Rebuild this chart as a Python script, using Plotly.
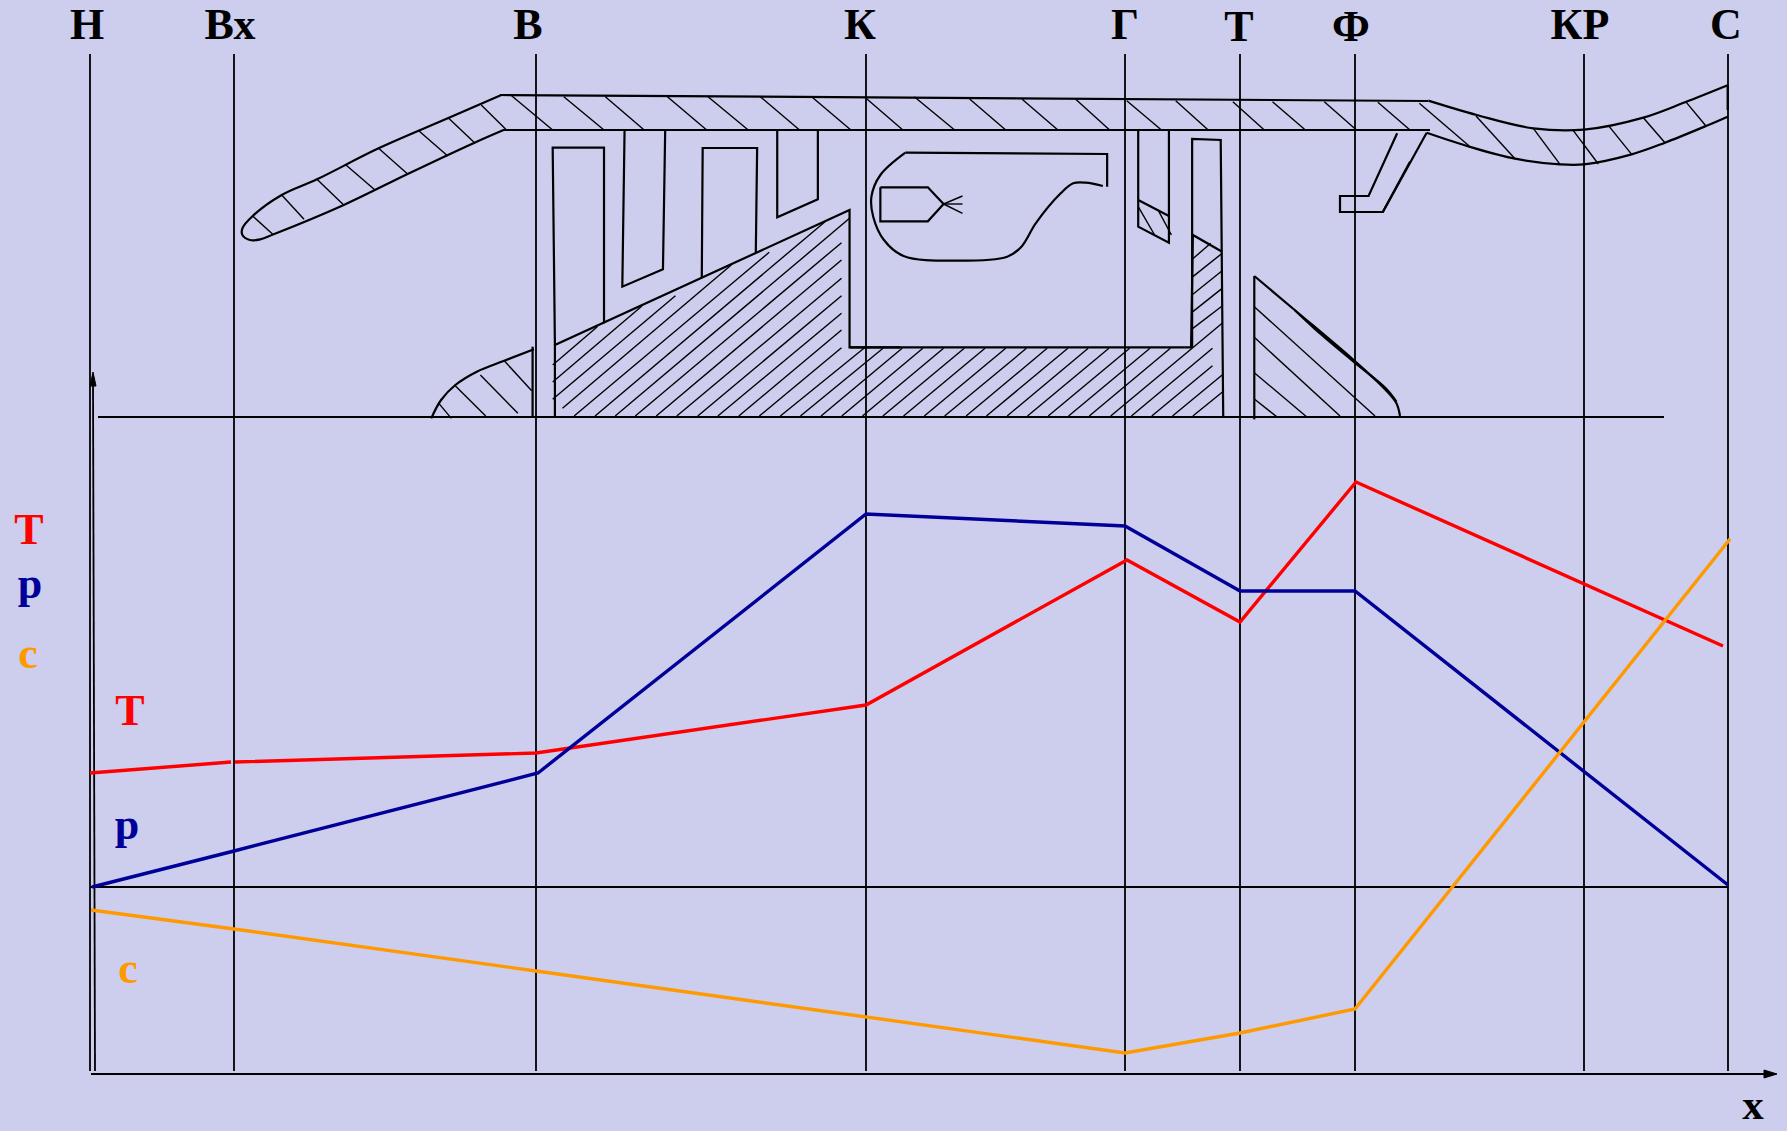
import plotly.graph_objects as go

BG = "#CDCDEE"
RED = "#FF0000"
BLUE = "#000099"
ORANGE = "#FF9900"
SERIF = "Liberation Serif"

# --- stations along the engine ---
station_labels = ["Н", "Вх", "В", "К", "Г", "Т", "Ф", "КР", "С"]
station_x = [90, 234, 536, 866, 1125, 1240, 1355, 1584, 1728]
label_x = [87, 230, 528, 860, 1125, 1239, 1351, 1580, 1726]
label_y = [28, 28, 28, 28, 28, 30, 30, 28, 28]

# --- parameter curves ---
T_x = [90, 231, None, 235, 536, 866, 1127, 1240, 1356, 1723]
T_y = [773, 762, None, 762, 753, 705, 560, 622, 482, 646]
p_x = [92, 234, 538, 866, 1125, 1240, 1355, 1728]
p_y = [887, 851, 773, 514, 526, 591, 591, 885]
c_x = [91, 234, 536, 866, 1125, 1240, 1355, 1730]
c_y = [910, 929, 971, 1017, 1053, 1033, 1009, 539]

COWL = [(675,105),(555,175),(400,265),(262,358),(183,405),(118,468),
        (95,505),(95,525),(112,540),(135,538),(165,523),(322,435),(465,342),
        (615,248),(680,210)]
COWL_HATCH = [(118,468,163,523),(183,405,233,478),(262,358,322,435),(325,313,392,390),
              (400,265,465,342),(490,212,555,288),(557,175,615,248),(630,135,685,208)]
CASING_HATCH_A = [(698,107,790,210),(815,110,905,210),(908,110,995,210),(1047,110,1135,210),
                  (1138,110,1228,210),(1255,110,1343,210),(1370,110,1458,210)]
CASING_HATCH_B = [(45,115,148,210),(180,110,293,210),(335,117,436,210),(482,118,582,210),
                  (632,118,727,210),(775,122,872,210),(912,122,1003,210),(1072,125,1160,210),
                  (1183,125,1275,210),(1328,125,1418,210),(1478,127,1568,210)]
SPINNER = [(518,1075),(540,1020),(572,975),(620,935),(680,903),(748,868)]
SPINNER_WALL = [(745,860),(745,1070)]
SPINNER_HATCH = [(535,1030,563,1075),(570,975,640,1068),(628,945,712,1060),(682,903,743,992)]
HUB_A = [(795,1070),(795,855),(1455,450),(1455,862),(1568,862)]
BLADE_1 = [(795,855),(790,263),(905,263),(905,790)]
BLADE_2 = [(951,213),(946,680),(1037,628),(1042,213)]
BLADE_3 = [(1124,652),(1126,264),(1248,264),(1245,578)]
BLADE_4 = [(1293,213),(1293,472),(1384,418),(1384,213)]
HUB_HATCH_A = [(790,915,890,800),(790,966,990,738),(790,1018,1065,707),(812,1045,1190,615),
               (838,1068,1275,577),(885,1068,1400,485),(930,1068,1455,475),(975,1068,1437,548),
               (1022,1068,1437,600),(1068,1068,1437,655),(1115,1068,1437,707),(1160,1068,1437,760),
               (1207,1068,1437,810),(1253,1068,1437,863),(1300,1068,1490,862),(1345,1068,1530,865)]
HUB_B = [(0,862),(955,862),(960,525),(1042,575)]
HUB_HATCH_B = [(-81,1068,146,865),(-23,1068,204,865),
               (35,1068,262,865),(92,1068,320,865),(150,1068,378,865),(208,1068,436,865),
               (265,1068,494,865),(325,1068,552,865),(382,1068,610,865),(440,1068,667,865),
               (497,1068,725,865),(555,1068,783,865),(612,1068,840,865),(670,1068,897,865),
               (730,1068,1042,790),(788,1068,1015,865),(845,1068,1015,917),(903,1068,1042,945),
               (960,1068,1042,997),
               (960,596,1010,550),(960,650,1042,580),(960,703,1042,632),(960,755,1042,685),
               (960,805,1042,738)]
COMBUSTOR_TOP = [(720,380),(720,282),(155,278)]
COMBUSTOR = [(155,278),(85,345),(60,410),(65,470),(95,540),(150,588),(300,602),
             (440,590),(480,560),(520,490),(590,400),(625,370),(660,368),(708,378)]
INJECTOR = [(85,382),(218,382),(262,432),(218,484),(85,484),(85,382)]
SPRAY = [(262,432,315,408),(262,432,315,432),(262,432,315,460)]
TURB_STATOR = [(807,213),(807,500),(893,548),(893,213)]
TURB_STATOR_LINE = [(807,420),(893,468)]
TURB_STATOR_HATCH = [(807,440,853,525),(865,455,900,525)]
TURB_ROTOR = [(958,862),(958,237),(1038,240),(1045,1068)]
CONE_WALL = [(1132,648),(1132,1078)]
CONE_OUTER = [(1132,648),(1245,750),(1410,900),(1500,990),(1530,1030),(1540,1068)]
CONE_INNER = [(1245,750),(1300,805),(1410,905),(1500,985),(1530,1025)]
CONE_HATCH = [(1132,740,1470,1068),(1132,832,1372,1068),(1132,938,1280,1072),(1132,1017,1197,1072)]
HOLDER_A = [(1532,220),(1452,408),(1372,408),(1372,456),(1492,456),(1568,305)]
NOZZLE_UP = [(145,122),(290,165),(460,205),(612,209),(790,173),(915,127),(1043,76)]
NOZZLE_LOW = [(140,218),(275,262),(405,296),(540,313),(612,313),(755,283),(855,248),(978,198),(1043,170)]
NOZZLE_WALL = [(1043,76),(1043,150)]
NOZZLE_HATCH = [(118,130,272,262),(288,168,405,296),(460,205,540,313),(580,212,655,312),
                (688,200,755,283),(790,173,855,248),(917,125,978,198)]
HOLDER_B = [(140,218),(8,457)]


def crop_a(p):
    return (200 + p[0] / 2.24, 60 + p[1] / 3)


def crop_b(p):
    return (850 + p[0] / 2.8, 60 + p[1] / 3)


def crop_c(p):
    return (1380 + p[0] / 3, 60 + p[1] / 3)


xs, ys = [], []
thin_x, thin_y = [], []
curve_x, curve_y = [], []


def poly(points, conv=None, tx=xs, ty=ys):
    for p in points:
        q = conv(p) if conv else p
        tx.append(q[0])
        ty.append(q[1])
    tx.append(None)
    ty.append(None)


def segs(items, conv):
    for s in items:
        poly([(s[0], s[1]), (s[2], s[3])], conv, thin_x, thin_y)


for outline in (SPINNER_WALL, HUB_A, BLADE_1, BLADE_2, BLADE_3, BLADE_4):
    poly(outline, crop_a)
for outline in (HUB_B, COMBUSTOR_TOP, INJECTOR, TURB_STATOR, TURB_STATOR_LINE, TURB_ROTOR, CONE_WALL, HOLDER_A):
    poly(outline, crop_b)
for outline in (NOZZLE_WALL, HOLDER_B):
    poly(outline, crop_c)
poly([(500, 95), (1428, 101)])
poly([(503, 130), (1430, 130)])

for outline in (COWL, SPINNER):
    poly(outline, crop_a, curve_x, curve_y)
for outline in (COMBUSTOR, CONE_OUTER, CONE_INNER):
    poly(outline, crop_b, curve_x, curve_y)
for outline in (NOZZLE_UP, NOZZLE_LOW):
    poly(outline, crop_c, curve_x, curve_y)

segs(COWL_HATCH + CASING_HATCH_A + SPINNER_HATCH + HUB_HATCH_A, crop_a)
segs(CASING_HATCH_B + HUB_HATCH_B + SPRAY + TURB_STATOR_HATCH + CONE_HATCH, crop_b)
segs(NOZZLE_HATCH, crop_c)

# frame lines
frame_x, frame_y = [], []
for sx in station_x:
    frame_x += [sx, sx, None]
    frame_y += [54, 1071, None]
frame_x += [95, 93, None, 90, 1728, None, 98, 1664, None, 91, 1770]
frame_y += [1071, 380, None, 887, 887, None, 417, 417, None, 1074, 1074]

fig = go.Figure()
fig.add_trace(go.Scatter(x=frame_x, y=frame_y, mode="lines", line=dict(color="#000000", width=1.8), hoverinfo="skip"))
fig.add_trace(go.Scatter(x=thin_x, y=thin_y, mode="lines", line=dict(color="#000000", width=1.4), hoverinfo="skip"))
fig.add_trace(go.Scatter(x=xs, y=ys, mode="lines", line=dict(color="#000000", width=2.2), hoverinfo="skip"))
fig.add_trace(go.Scatter(x=curve_x, y=curve_y, mode="lines", line=dict(color="#000000", width=2.2, shape="spline", smoothing=1), hoverinfo="skip"))
# arrow heads
fig.add_trace(go.Scatter(x=[93, 90, 96, 93], y=[372, 386, 386, 372], mode="lines", fill="toself",
                         fillcolor="#000000", line=dict(color="#000000", width=1), hoverinfo="skip"))
fig.add_trace(go.Scatter(x=[1777, 1764, 1764, 1777], y=[1074, 1070, 1078, 1074], mode="lines", fill="toself",
                         fillcolor="#000000", line=dict(color="#000000", width=1), hoverinfo="skip"))

fig.add_trace(go.Scatter(x=T_x, y=T_y, mode="lines", name="T", line=dict(color=RED, width=3.4)))
fig.add_trace(go.Scatter(x=p_x, y=p_y, mode="lines", name="p", line=dict(color=BLUE, width=3.4)))
fig.add_trace(go.Scatter(x=c_x, y=c_y, mode="lines", name="c", line=dict(color=ORANGE, width=3.4)))

font_big = 44
fig.add_trace(go.Scatter(x=label_x, y=label_y, mode="text", text=station_labels,
                         textfont=dict(family=SERIF, size=font_big, color="#000000", weight=700)))
for txt, x, y, col in [("Т", 29, 533, RED), ("p", 30, 587, BLUE), ("c", 28, 657, ORANGE),
                       ("Т", 130, 714, RED), ("p", 127, 828, BLUE), ("c", 128, 972, ORANGE)]:
    fig.add_trace(go.Scatter(x=[x], y=[y], mode="text", text=[txt],
                             textfont=dict(family=SERIF, size=font_big, color=col, weight=700)))
fig.add_trace(go.Scatter(x=[1753], y=[1130], mode="text", text=["х"], textposition="top center",
                         textfont=dict(family=SERIF, size=43, color="#000000", weight=700)))

fig.update_traces(cliponaxis=False)
fig.update_layout(
    width=1787, height=1131, margin=dict(l=0, r=0, t=0, b=0), showlegend=False,
    paper_bgcolor=BG, plot_bgcolor=BG,
    xaxis=dict(range=[0, 1787], visible=False, fixedrange=True),
    yaxis=dict(range=[1131, 0], visible=False, fixedrange=True),
)
fig.write_html("out.html", config={"displayModeBar": False},
               post_script="document.body.style.margin='0';document.body.style.overflow='hidden';document.body.style.background='%s';" % BG)
